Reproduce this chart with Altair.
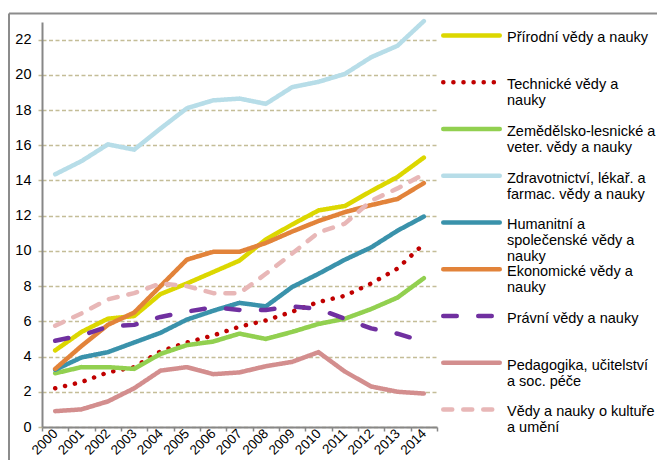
import altair as alt
import pandas as pd

years = [str(y) for y in range(2000, 2015)]

series = [
    "Přírodní vědy a nauky",
    "Technické vědy a nauky",
    "Zemědělsko-lesnické a veter. vědy a nauky",
    "Zdravotnictví, lékař. a farmac. vědy a nauky",
    "Humanitní a společenské vědy a nauky",
    "Ekonomické vědy a nauky",
    "Právní vědy a nauky",
    "Pedagogika, učitelství a soc. péče",
    "Vědy a nauky o kultuře a umění",
]

legend_lines = [
    ["Přírodní  vědy a nauky"],
    ["Technické vědy a", "nauky"],
    ["Zemědělsko-lesnické a", "veter. vědy a nauky"],
    ["Zdravotnictví, lékař. a", "farmac. vědy a nauky"],
    ["Humanitní a", "společenské vědy a", "nauky"],
    ["Ekonomické vědy a", "nauky"],
    ["Právní vědy a nauky"],
    ["Pedagogika, učitelství", "a soc. péče"],
    ["Vědy a nauky o kultuře", "a umění"],
]

prirodni = [4.35, 5.4, 6.15, 6.3, 7.55, 8.15, 8.8, 9.45, 10.65, 11.5, 12.3, 12.55, 13.4, 14.2, 15.3]
technicke = [2.2, 2.55, 3.1, 3.4, 4.3, 4.8, 5.2, 5.7, 6.05, 6.55, 7.1, 7.45, 8.15, 9.0, 10.4]
zemedel = [3.05, 3.4, 3.4, 3.3, 4.15, 4.65, 4.85, 5.3, 5.0, 5.4, 5.85, 6.15, 6.7, 7.35, 8.45]
zdrav = [14.35, 15.1, 16.05, 15.75, 16.95, 18.1, 18.55, 18.65, 18.35, 19.3, 19.6, 20.05, 21.0, 21.65, 23.05]
humanit = [3.25, 3.95, 4.25, 4.8, 5.35, 6.1, 6.6, 7.05, 6.85, 7.95, 8.7, 9.5, 10.2, 11.15, 11.95]
ekonom = [3.3, 4.6, 5.8, 6.5, 8.0, 9.5, 9.95, 9.95, 10.45, 11.1, 11.7, 12.2, 12.6, 12.95, 13.85]
pravni = [4.9, 5.2, 5.7, 5.8, 6.25, 6.55, 6.8, 6.65, 6.65, 6.85, 6.7, 6.15, 5.6, 5.3, 4.85]
pedagog = [0.9, 1.0, 1.45, 2.2, 3.2, 3.4, 3.0, 3.1, 3.45, 3.7, 4.25, 3.15, 2.3, 2.0, 1.9]
kultura = [5.75, 6.45, 7.25, 7.6, 8.15, 8.0, 7.6, 7.6, 8.7, 9.85, 11.05, 11.55, 12.85, 13.55, 14.35]

all_values = [prirodni, technicke, zemedel, zdrav, humanit, ekonom, pravni, pedagog, kultura]

colors = ["#dcd700", "#c00000", "#92d050", "#b7dde8", "#3a92ab",
          "#e2833a", "#7030a0", "#d38e8e", "#e8b7b7"]
dashes = [[1, 0], [0.1, 10], [1, 0], [1, 0], [1, 0],
          [1, 0], [13.5, 21.5], [1, 0], [9, 11]]

y_ticks = list(range(0, 23, 2))

rows = []
for name, vals in zip(series, all_values):
    for yr, v in zip(years, vals):
        rows.append({"year": yr, "value": v, "series": name})
df = pd.DataFrame(rows)

leg_df = pd.DataFrame({
    "series": series,
    "idx": list(range(len(series))),
    "label": ["\n".join(l) for l in legend_lines],
})

FONT = "Liberation Sans, Arial, sans-serif"

color_enc = alt.Color("series:N", scale=alt.Scale(domain=series, range=colors), legend=None)
dash_enc = alt.StrokeDash("series:N", scale=alt.Scale(domain=series, range=dashes), legend=None)

lines = alt.Chart(df).mark_line(strokeWidth=4.5, strokeCap="round", strokeJoin="round").encode(
    x=alt.X(
        "year:O",
        scale=alt.Scale(type="band", paddingInner=0, paddingOuter=0),
        bandPosition=0.5,
        title=None,
        axis=alt.Axis(
            labelAngle=-45,
            labelAlign="right",
            labelBaseline="middle",
            labelFont=FONT,
            labelFontSize=13.5,
            labelColor="#000000",
            tickBand="extent",
            tickColor="#878787",
            tickSize=4,
            tickWidth=1.5,
            domainColor="#878787",
            domainWidth=2,
            grid=False,
            labelPadding=0,
        ),
    ),
    y=alt.Y(
        "value:Q",
        scale=alt.Scale(domain=[0, 23], nice=False),
        title=None,
        axis=alt.Axis(
            values=y_ticks,
            labelFont=FONT,
            labelFontSize=14.5,
            labelColor="#000000",
            labelPadding=7,
            tickColor="#c4bd97",
            tickSize=4,
            tickWidth=1.5,
            domainColor="#878787",
            domainWidth=2,
            grid=True,
            gridColor="#c4bd97",
            gridDash=[4, 2.5],
            gridWidth=1.5,
        ),
    ),
    color=color_enc,
    strokeDash=dash_enc,
)

# legend rows laid out by an index scale (first row near the top, 9 rows down the plot height)
leg_y = alt.Y("idx:Q", scale=alt.Scale(domain=[-0.287, 8.376], reverse=True, nice=False, zero=False), axis=None)

leg_sym = alt.Chart(leg_df).mark_rule(strokeWidth=4.5, strokeCap="round").encode(
    x=alt.value(401.25), x2=alt.value(457.75), y=leg_y, color=color_enc, strokeDash=dash_enc
)
leg_txt = alt.Chart(leg_df).mark_text(
    align="left", baseline="alphabetic", dy=7, lineBreak="\n", lineHeight=16,
    font=FONT, fontSize=14.5, color="#000000"
).encode(x=alt.value(465), y=leg_y, text="label:N")

border_df = pd.DataFrame({"k": [0]})
top_border = alt.Chart(border_df).mark_rule(color="#8c8c8c", strokeWidth=2).encode(
    x=alt.value(-33), x2=alt.value(640), y=alt.value(-8.5)
)
left_border = alt.Chart(border_df).mark_rule(color="#8c8c8c", strokeWidth=2).encode(
    x=alt.value(-33), y=alt.value(-8.5), y2=alt.value(460)
)

chart = alt.layer(top_border, left_border, lines, leg_sym, leg_txt).resolve_scale(
    y="independent"
).properties(
    width=395,
    height=405,
    padding={"left": 34, "top": 14, "right": 220, "bottom": 33},
    autosize=alt.AutoSizeParams(type="none"),
).configure_view(stroke=None)

chart.save("out.html", embed_options={"renderer": "svg", "actions": False})
